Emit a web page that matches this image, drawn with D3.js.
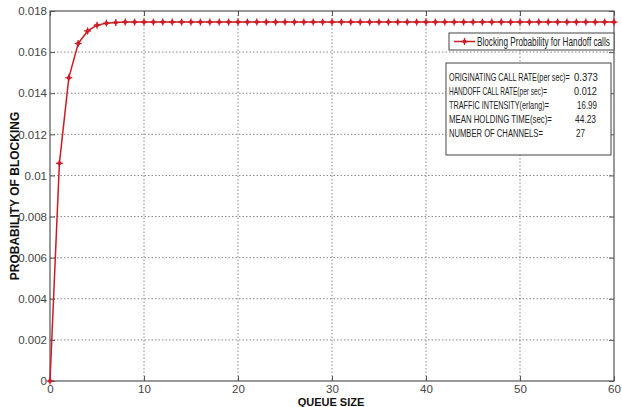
<!DOCTYPE html>
<html>
<head>
<meta charset="utf-8">
<script src="https://cdn.jsdelivr.net/npm/d3@7"></script>
<style>
body { margin: 0; background: #fff; }
svg { display: block; }
.tick text { font-family: "Liberation Sans Narrow", "Arial Narrow", "Liberation Sans", sans-serif; fill: #444; }
</style>
</head>
<body>
<div id="chart"></div>
<script>
var width = 622;
var height = 407;

// queue size (x) and blocking probability (y)
var queueSize = [0, 1, 2, 3, 4, 5, 6, 7, 8, 9, 10, 11, 12, 13, 14, 15, 16, 17, 18, 19, 20,
  21, 22, 23, 24, 25, 26, 27, 28, 29, 30, 31, 32, 33, 34, 35, 36, 37, 38, 39, 40,
  41, 42, 43, 44, 45, 46, 47, 48, 49, 50, 51, 52, 53, 54, 55, 56, 57, 58, 59, 60];
var blocking = [0, 0.01059, 0.01475, 0.01642, 0.01703, 0.01731, 0.01741, 0.01744, 0.01746, 0.01746, 0.01746,
  0.01746, 0.01746, 0.01746, 0.01746, 0.01746, 0.01746, 0.01746, 0.01746, 0.01746, 0.01746,
  0.01746, 0.01746, 0.01746, 0.01746, 0.01746, 0.01746, 0.01746, 0.01746, 0.01746, 0.01746,
  0.01746, 0.01746, 0.01746, 0.01746, 0.01746, 0.01746, 0.01746, 0.01746, 0.01746, 0.01746,
  0.01746, 0.01746, 0.01746, 0.01746, 0.01746, 0.01746, 0.01746, 0.01746, 0.01746, 0.01746,
  0.01746, 0.01746, 0.01746, 0.01746, 0.01746, 0.01746, 0.01746, 0.01746, 0.01746, 0.01746];

var xTicks = [0, 10, 20, 30, 40, 50, 60];
var yTicks = [0, 0.002, 0.004, 0.006, 0.008, 0.01, 0.012, 0.014, 0.016, 0.018];
var yTickLabels = ["0", "0.002", "0.004", "0.006", "0.008", "0.01", "0.012", "0.014", "0.016", "0.018"];

var seriesName = "Blocking Probability for Handoff calls";
var infoLabels = ["ORIGINATING CALL RATE(per sec)=", "HANDOFF CALL RATE(per sec)=",
  "TRAFFIC INTENSITY(erlang)=", "MEAN HOLDING TIME(sec)=", "NUMBER OF CHANNELS="];
var infoValues = ["0.373", "0.012", "16.99", "44.23", "27"];

var plotLeft = 50, plotRight = 614, plotTop = 11, plotBottom = 381;
var red = "#cc1c24";
var narrow = "\"Liberation Sans Narrow\", \"Arial Narrow\", \"Liberation Sans\", sans-serif";

var svg = d3.select("#chart").append("svg")
  .attr("width", width)
  .attr("height", height);

var xScale = d3.scaleLinear().domain([0, 60]).range([plotLeft, plotRight]);
var yScale = d3.scaleLinear().domain([0, 0.018]).range([plotBottom, plotTop]);

// dotted grid
svg.append("g").selectAll("line").data(xTicks.slice(1, -1)).enter().append("line")
  .attr("x1", function(d) { return xScale(d); })
  .attr("x2", function(d) { return xScale(d); })
  .attr("y1", plotTop).attr("y2", plotBottom)
  .attr("stroke", "#888").attr("stroke-width", 1).attr("stroke-dasharray", "1.5,2");
svg.append("g").selectAll("line").data(yTicks.slice(1, -1)).enter().append("line")
  .attr("y1", function(d) { return yScale(d); })
  .attr("y2", function(d) { return yScale(d); })
  .attr("x1", plotLeft).attr("x2", plotRight)
  .attr("stroke", "#888").attr("stroke-width", 1).attr("stroke-dasharray", "1.5,2");

// axes
var xAxis = d3.axisBottom(xScale).tickValues(xTicks).tickSizeInner(-5).tickSizeOuter(0).tickPadding(4);
var yAxis = d3.axisLeft(yScale).tickValues(yTicks).tickSizeInner(-5).tickSizeOuter(0).tickPadding(3)
  .tickFormat(function(d, i) { return yTickLabels[i]; });

var gx = svg.append("g").attr("transform", "translate(0," + plotBottom + ")").call(xAxis);
var gy = svg.append("g").attr("transform", "translate(" + plotLeft + ",0)").call(yAxis);
[gx, gy].forEach(function(g) {
  g.select(".domain").remove();
  g.selectAll(".tick line").attr("stroke", "#555");
  g.selectAll(".tick text").attr("font-size", 11.5);
});
// matching ticks on top and right
var xAxisTop = d3.axisTop(xScale).tickValues(xTicks).tickSizeInner(-5).tickSizeOuter(0).tickFormat("");
var yAxisRight = d3.axisRight(yScale).tickValues(yTicks).tickSizeInner(-5).tickSizeOuter(0).tickFormat("");
svg.append("g").attr("transform", "translate(0," + plotTop + ")").call(xAxisTop)
  .call(function(g) { g.select(".domain").remove(); g.selectAll(".tick line").attr("stroke", "#555"); });
svg.append("g").attr("transform", "translate(" + plotRight + ",0)").call(yAxisRight)
  .call(function(g) { g.select(".domain").remove(); g.selectAll(".tick line").attr("stroke", "#555"); });

// frame
svg.append("rect")
  .attr("x", plotLeft).attr("y", plotTop)
  .attr("width", plotRight - plotLeft).attr("height", plotBottom - plotTop)
  .attr("fill", "none").attr("stroke", "#555").attr("stroke-width", 1.2);

// series line
var line = d3.line()
  .x(function(d, i) { return xScale(queueSize[i]); })
  .y(function(d) { return yScale(d); });

svg.append("path").datum(blocking)
  .attr("d", line)
  .attr("fill", "none").attr("stroke", red).attr("stroke-width", 1.5);

function marker(g, cx, cy) {
  g.append("line").attr("x1", cx - 3.5).attr("x2", cx + 3.5).attr("y1", cy).attr("y2", cy)
    .attr("stroke", red).attr("stroke-width", 1.3);
  g.append("line").attr("x1", cx).attr("x2", cx).attr("y1", cy - 3.5).attr("y2", cy + 3.5)
    .attr("stroke", red).attr("stroke-width", 1.3);
  g.append("circle").attr("cx", cx).attr("cy", cy).attr("r", 2).attr("fill", red);
}

var markers = svg.append("g");
blocking.forEach(function(d, i) {
  marker(markers, xScale(queueSize[i]), yScale(d));
});

// text squeezed horizontally (condensed look) so it fits maxW, keeping its height
function condensed(parent, x, y, str, size, maxW) {
  var g = parent.append("g");
  var t = g.append("text")
    .attr("font-family", narrow).attr("font-size", size).attr("fill", "#222")
    .text(str);
  var w = t.node().getComputedTextLength();
  var sx = w > maxW ? maxW / w : 1;
  g.attr("transform", "translate(" + x + "," + y + ")scale(" + sx + ",1)");
  return g;
}

// legend
var legend = svg.append("g");
legend.append("rect")
  .attr("x", 449).attr("y", 33).attr("width", 165).attr("height", 17)
  .attr("fill", "#fff").attr("stroke", "#444").attr("stroke-width", 1);
legend.append("line").attr("x1", 454).attr("x2", 475).attr("y1", 41.5).attr("y2", 41.5)
  .attr("stroke", red).attr("stroke-width", 1.5);
marker(legend, 464.5, 41.5);
condensed(legend, 477, 45.5, seriesName, 12, 133);

// info box
var info = svg.append("g");
info.append("rect")
  .attr("x", 446).attr("y", 63).attr("width", 165).attr("height", 92)
  .attr("fill", "#fff").attr("stroke", "#444").attr("stroke-width", 1);
var labelW = [121, 98, 100, 103, 94];
var valueX = [574, 574, 577, 575, 576];
var valueW = [24, 23, 20, 21, 9];
var baselines = [81, 95, 109, 123, 137];
infoLabels.forEach(function(t, i) {
  condensed(info, 449, baselines[i], t, 11, labelW[i]);
  condensed(info, valueX[i], baselines[i], infoValues[i], 11, valueW[i]);
});

// axis titles
svg.append("text")
  .attr("x", 331).attr("y", 406)
  .attr("text-anchor", "middle")
  .attr("font-family", "Liberation Sans, Arial, sans-serif").attr("font-weight", "bold")
  .attr("font-size", 11).attr("fill", "#111")
  .text("QUEUE SIZE");

var yTitle = svg.append("text")
  .attr("transform", "translate(19,196)rotate(-90)")
  .attr("text-anchor", "middle")
  .attr("font-family", "Liberation Sans, Arial, sans-serif").attr("font-weight", "bold")
  .attr("fill", "#111")
  .attr("font-size", 12)
  .text("PROBABILITY OF BLOCKING");
var yw = yTitle.node().getComputedTextLength();
if (yw > 175) yTitle.attr("font-size", 12 * 175 / yw);
</script>
</body>
</html>
